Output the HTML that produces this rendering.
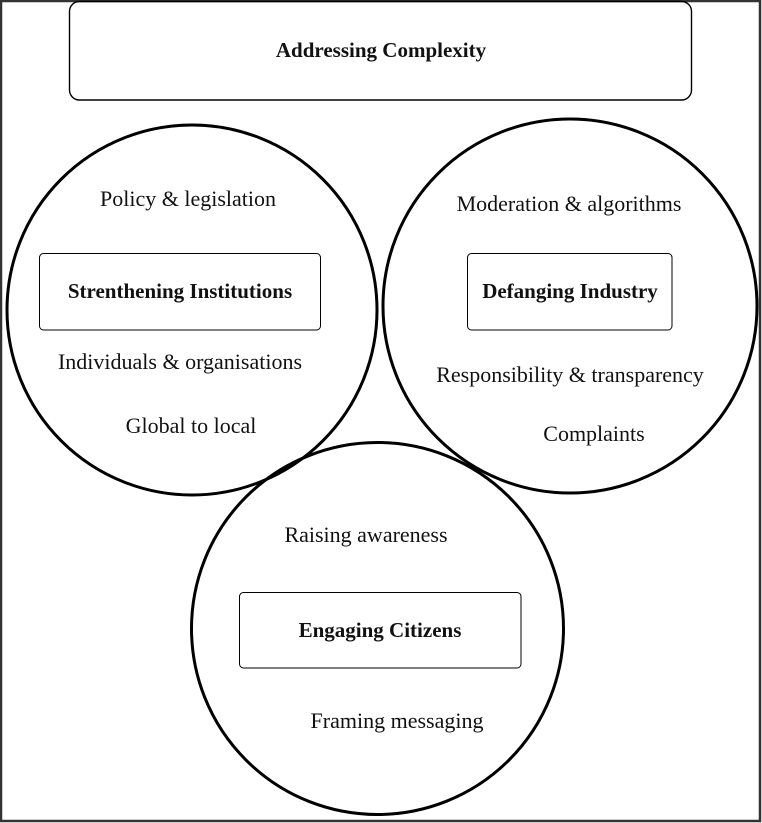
<!DOCTYPE html>
<html><head><meta charset="utf-8"><style>
html,body{margin:0;padding:0;background:#fff}
svg{display:block}
text{font-family:"Liberation Serif",serif;font-size:22px;fill:#111}
.b{font-weight:bold;font-size:21px}
</style></head><body>
<svg width="762" height="823" viewBox="0 0 762 823" xmlns="http://www.w3.org/2000/svg">
<rect x="1" y="1" width="759" height="820" fill="#fff" stroke="#333" stroke-width="2.5"/>
<rect x="69.5" y="1.5" width="622" height="98.5" rx="10" fill="none" stroke="#000" stroke-width="1.4"/>
<text class="b" x="381" y="57" text-anchor="middle">Addressing Complexity</text>

<circle cx="192" cy="310" r="185" fill="none" stroke="#000" stroke-width="3"/>
<circle cx="570" cy="306" r="187" fill="none" stroke="#000" stroke-width="3"/>
<circle cx="377.5" cy="628.5" r="186" fill="none" stroke="#000" stroke-width="3"/>

<rect x="39.5" y="253.5" width="281" height="76.5" rx="4" fill="none" stroke="#000" stroke-width="1"/>
<text class="b" x="180" y="298" text-anchor="middle">Strenthening Institutions</text>
<rect x="467.5" y="253.5" width="204.5" height="76.5" rx="4" fill="none" stroke="#000" stroke-width="1"/>
<text class="b" x="570" y="298" text-anchor="middle">Defanging Industry</text>
<rect x="239.5" y="592.5" width="281.5" height="75.5" rx="4" fill="none" stroke="#000" stroke-width="1"/>
<text class="b" x="380" y="637" text-anchor="middle">Engaging Citizens</text>

<text x="188" y="206" text-anchor="middle">Policy &amp; legislation</text>
<text x="180" y="369" text-anchor="middle">Individuals &amp; organisations</text>
<text x="191" y="433" text-anchor="middle">Global to local</text>
<text x="569" y="211" text-anchor="middle">Moderation &amp; algorithms</text>
<text x="570" y="382" text-anchor="middle">Responsibility &amp; transparency</text>
<text x="594" y="441" text-anchor="middle">Complaints</text>
<text x="366" y="542" text-anchor="middle">Raising awareness</text>
<text x="397" y="728" text-anchor="middle">Framing messaging</text>
</svg>
</body></html>
